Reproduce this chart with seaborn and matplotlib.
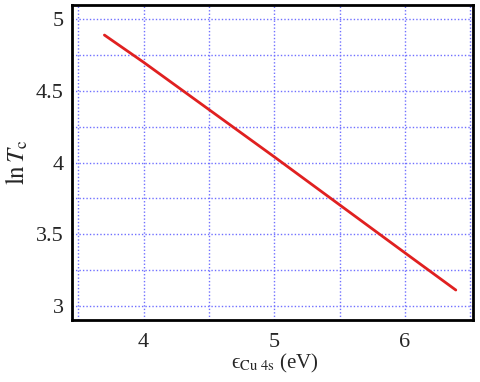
import matplotlib
matplotlib.use("Agg")
import matplotlib.pyplot as plt
import seaborn as sns
import pandas as pd

eps_cu4s = [3.70, 4.00, 5.00, 6.00, 6.39]
ln_tc = [4.89, 4.70, 4.04, 3.37, 3.11]

x_ticks = [3.5, 4, 4.5, 5, 5.5, 6, 6.5]
x_labels = ["", "4", "", "5", "", "6", ""]
y_ticks = [3, 3.25, 3.5, 3.75, 4, 4.25, 4.5, 4.75, 5]
y_labels = ["3", "", "3.5", "", "4", "", "4.5", "", "5"]

sns.set_style("white")
plt.rcParams['font.family'] = ['Liberation Serif', 'DejaVu Serif']
plt.rcParams['mathtext.fontset'] = 'stix'

fig = plt.figure(figsize=(4.8, 3.82), dpi=100)
ax = fig.add_axes([0.15, 0.162, 0.835, 0.825])

df = pd.DataFrame({"x": eps_cu4s, "y": ln_tc})
sns.lineplot(data=df, x="x", y="y", ax=ax, color="#e02020", linewidth=2)

ax.set_xlim(3.452, 6.52)
ax.set_ylim(2.9, 5.1)
ax.set_xticks(x_ticks)
ax.set_xticklabels(x_labels)
ax.set_yticks(y_ticks)
ax.set_yticklabels(y_labels)
ax.grid(True, which="major", color="#7070ff", linestyle=(0, (1, 1.5)), linewidth=1)
ax.tick_params(axis="y", which="both", length=0, labelsize=16, pad=6)
ax.tick_params(axis="x", which="both", length=0, labelsize=16, pad=9)

for s in ax.spines.values():
    s.set_color("black")
    s.set_linewidth(2)

ax.set_xlabel("\u03f5${}_{\\rm Cu\\ 4s}$ (eV)", fontsize=15,
              family=['Liberation Serif', 'DejaVu Serif'])
ax.set_ylabel(r"$\ln T_{\rm c}$", fontsize=18)
ax.yaxis.set_label_coords(-0.105, 0.5)
ax.xaxis.set_label_coords(0.506, -0.10)

fig.savefig("out.png", dpi=100)
